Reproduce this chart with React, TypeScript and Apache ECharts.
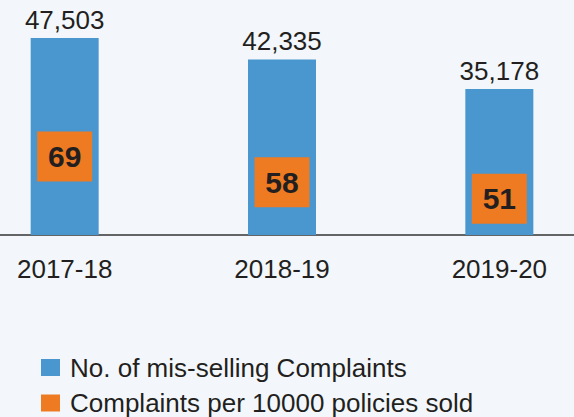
import React, { useEffect, useRef } from "react";
import * as echarts from "echarts";

const categories = ["2017-18", "2018-19", "2019-20"];
const complaints = [47503, 42335, 35178];
const perTenThousand = [69, 58, 51];
const seriesNames = ["No. of mis-selling Complaints", "Complaints per 10000 policies sold"];

const FONT = "'Liberation Sans', Arial, Helvetica, sans-serif";
const TEXT = "#231f20";
const BLUE = "#4a97d0";
const ORANGE = "#ee7a22";
const BG = "#f3f7fb";
const SHIFT = 44;

export default function App() {
  const ref = useRef<HTMLDivElement>(null);
  useEffect(() => {
    if (!ref.current) return;
    const chart = echarts.init(ref.current, null, { renderer: "svg" });
    chart.setOption({
      animation: false,
      backgroundColor: BG,
      textStyle: { fontFamily: FONT },
      grid: { left: 0, right: 0, top: 27.6, bottom: 182, containLabel: false },
      legend: {
        data: seriesNames,
        orient: "vertical",
        left: 41 + SHIFT,
        top: 354.5,
        height: 80,
        padding: 0,
        icon: "rect",
        itemWidth: 19,
        itemHeight: 17,
        itemGap: 9.5,
        textStyle: { fontSize: 26, color: TEXT, fontFamily: FONT, padding: [0, 0, 0, 5] },
      },
      xAxis: {
        type: "category",
        data: categories,
        axisLine: { lineStyle: { color: "#333333", width: 1.5 } },
        axisTick: { show: false },
        axisLabel: { fontSize: 26, color: TEXT, margin: 21, fontFamily: FONT },
      },
      yAxis: [
        { type: "value", min: 0, max: 50000, show: false, splitLine: { show: false } },
        { type: "value", min: 35.5, max: 124, show: false, splitLine: { show: false } },
      ],
      series: [
        {
          name: seriesNames[0],
          type: "bar",
          data: complaints,
          barWidth: 68,
          itemStyle: { color: BLUE },
          label: {
            show: true,
            position: "top",
            distance: 5,
            fontSize: 26,
            color: TEXT,
            fontFamily: FONT,
            formatter: (p: any) => Number(p.value).toLocaleString("en-US"),
          },
          z: 2,
        },
        {
          name: seriesNames[1],
          type: "scatter",
          yAxisIndex: 1,
          data: perTenThousand,
          symbol: "rect",
          symbolSize: [55, 50],
          itemStyle: { color: ORANGE, opacity: 1 },
          label: {
            show: true,
            position: "inside",
            fontSize: 30,
            fontWeight: "bold",
            color: TEXT,
            fontFamily: FONT,
          },
          z: 3,
        },
      ],
    });
    return () => chart.dispose();
  }, []);
  return (
    <div
      style={{
        position: "absolute",
        left: 0,
        top: 0,
        width: 574,
        height: 417,
        overflow: "hidden",
        background: BG,
      }}
    >
      <div
        ref={ref}
        style={{ position: "absolute", left: -SHIFT, top: 0, width: 652, height: 417 }}
      />
    </div>
  );
}
